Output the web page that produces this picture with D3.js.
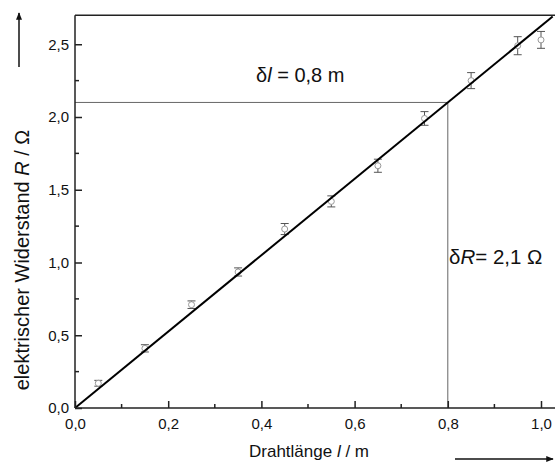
<!DOCTYPE html>
<html>
<head>
<meta charset="utf-8">
<script src="https://cdn.jsdelivr.net/npm/d3@7"></script>
<style>
  body { margin: 0; background: #fff; }
  svg text { font-family: "Liberation Sans", Arial, sans-serif; fill: #111; }
</style>
</head>
<body>
<svg id="chart" width="555" height="466"></svg>
<script>
// Measured wire length (m) and resistance (Ohm) with error
const lengths = [0.05, 0.15, 0.25, 0.35, 0.45, 0.55, 0.65, 0.75, 0.85, 0.95, 1.0];
const resistances = [0.17, 0.41, 0.71, 0.935, 1.23, 1.42, 1.665, 1.99, 2.25, 2.49, 2.53];
const errors = [0.02, 0.025, 0.026, 0.028, 0.038, 0.038, 0.045, 0.047, 0.055, 0.062, 0.058];
const fitSlope = 2.625;
const xTicks = [0, 0.2, 0.4, 0.6, 0.8, 1.0];
const yTicks = [0, 0.5, 1.0, 1.5, 2.0, 2.5];
const xMinor = [0.1, 0.3, 0.5, 0.7, 0.9];
const yMinor = [0.25, 0.75, 1.25, 1.75, 2.25];

const svg = d3.select("#chart");
const fmt = d => d3.format(".1f")(d).replace(".", ",");

const x = d3.scaleLinear().domain([0, 1.04]).range([75, 75 + 466 * 1.04]);
const y = d3.scaleLinear().domain([0, 2.7]).range([408, 408 - 145.5 * 2.7]);

// arrow marker
svg.append("defs").append("marker")
    .attr("id", "arrow")
    .attr("viewBox", "0 0 10 10")
    .attr("refX", 9).attr("refY", 5)
    .attr("markerWidth", 5).attr("markerHeight", 5)
    .attr("markerUnits", "strokeWidth")
    .attr("orient", "auto")
    .append("path").attr("d", "M0,1 L10,5 L0,9 Z").attr("fill", "#111");

// reference lines for delta l / delta R
svg.append("line")
    .attr("x1", x(0)).attr("x2", x(0.8))
    .attr("y1", y(2.1)).attr("y2", y(2.1))
    .attr("stroke", "#666").attr("stroke-width", 1);
svg.append("line")
    .attr("x1", x(0.8)).attr("x2", x(0.8))
    .attr("y1", y(0)).attr("y2", y(2.1))
    .attr("stroke", "#666").attr("stroke-width", 1);

// error bars
const eb = svg.append("g").attr("stroke", "#555").attr("stroke-width", 1);
lengths.forEach((l, i) => {
    const cx = x(l), lo = y(resistances[i] - errors[i]), hi = y(resistances[i] + errors[i]);
    eb.append("line").attr("x1", cx).attr("x2", cx).attr("y1", lo).attr("y2", hi);
    eb.append("line").attr("x1", cx - 4).attr("x2", cx + 4).attr("y1", lo).attr("y2", lo);
    eb.append("line").attr("x1", cx - 4).attr("x2", cx + 4).attr("y1", hi).attr("y2", hi);
});

// data points
svg.append("g").selectAll("circle")
    .data(lengths)
    .enter()
    .append("circle")
    .attr("cx", d => x(d))
    .attr("cy", (d, i) => y(resistances[i]))
    .attr("r", 3)
    .attr("fill", "white")
    .attr("stroke", "#999")
    .attr("stroke-width", 1);

// fit line
svg.append("line")
    .attr("x1", x(0)).attr("y1", y(0))
    .attr("x2", x(1.025)).attr("y2", y(1.025 * fitSlope))
    .attr("stroke", "#000").attr("stroke-width", 2);

// top frame line
svg.append("line")
    .attr("x1", x(0)).attr("x2", 555)
    .attr("y1", y(2.7)).attr("y2", y(2.7))
    .attr("stroke", "#222").attr("stroke-width", 1.5);

// axes
const xAxis = svg.append("g").attr("transform", `translate(0,${y(0)})`)
    .call(d3.axisBottom(x).tickValues(xTicks).tickFormat(fmt).tickSize(-7).tickPadding(10));
xAxis.append("g").selectAll("line").data(xMinor).enter().append("line")
    .attr("x1", d => x(d)).attr("x2", d => x(d)).attr("y1", 0).attr("y2", -4)
    .attr("stroke", "#222").attr("stroke-width", 1.5);

const yAxis = svg.append("g").attr("transform", `translate(${x(0)},0)`)
    .call(d3.axisLeft(y).tickValues(yTicks).tickFormat(fmt).tickSize(-7).tickPadding(6));
yAxis.append("g").selectAll("line").data(yMinor).enter().append("line")
    .attr("x1", 0).attr("x2", 4).attr("y1", d => y(d)).attr("y2", d => y(d))
    .attr("stroke", "#222").attr("stroke-width", 1.5);

[xAxis, yAxis].forEach(a => {
    a.select(".domain").attr("stroke", "#222").attr("stroke-width", 1.5);
    a.selectAll(".tick line").attr("stroke", "#222").attr("stroke-width", 1.5);
    a.selectAll(".tick text").style("font-size", "15px")
        .style("font-family", "'Liberation Sans', Arial, sans-serif").attr("fill", "#111");
});
yAxis.select(".domain").attr("d", `M0,${y(0)}V${y(2.7)}`);
xAxis.select(".domain").attr("d", `M${x(0)},0H555`);

// annotations
const dl = svg.append("text").attr("x", 256).attr("y", 82).style("font-size", "20px");
dl.append("tspan").text("δ");
dl.append("tspan").style("font-style", "italic").text("l");
dl.append("tspan").text(" = 0,8 m");

const dr = svg.append("text").attr("x", 449).attr("y", 264).style("font-size", "20.5px");
dr.append("tspan").text("δ");
dr.append("tspan").style("font-style", "italic").text("R");
dr.append("tspan").text("= 2,1 Ω");

// axis titles
const xt = svg.append("text").attr("x", 309).attr("y", 457)
    .attr("text-anchor", "middle").style("font-size", "17px");
xt.append("tspan").text("Drahtlänge ");
xt.append("tspan").style("font-style", "italic").text("l");
xt.append("tspan").text(" / m");

const yt = svg.append("text")
    .attr("transform", "translate(29,260) rotate(-90)")
    .attr("text-anchor", "middle").style("font-size", "20px");
yt.append("tspan").text("elektrischer Widerstand ");
yt.append("tspan").style("font-style", "italic").text("R");
yt.append("tspan").text(" / Ω");

// direction arrows
svg.append("line")
    .attr("x1", 455).attr("x2", 553).attr("y1", 459).attr("y2", 459)
    .attr("stroke", "#111").attr("stroke-width", 1.5).attr("marker-end", "url(#arrow)");
svg.append("line")
    .attr("x1", 19).attr("x2", 19).attr("y1", 67).attr("y2", 13)
    .attr("stroke", "#111").attr("stroke-width", 1.5).attr("marker-end", "url(#arrow)");
</script>
</body>
</html>
